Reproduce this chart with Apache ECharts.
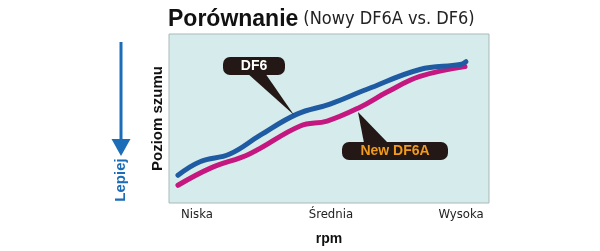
<!DOCTYPE html>
<html>
<head>
<meta charset="utf-8">
<script src="https://cdn.jsdelivr.net/npm/echarts@6/dist/echarts.min.js"></script>
<style>
  html, body { margin: 0; padding: 0; background: #fff; }
  #chart { width: 600px; height: 251px; }
</style>
</head>
<body>
<div id="chart"></div>
<script>
  // x: 0..100 = lewa..prawa krawędź wykresu, y: 0..100 = dół..góra
  const tickValues = [8.75, 50.6, 91.25];
  const tickLabels = ['Niska', 'Średnia', 'Wysoka'];

  const df6 = [
    [2.8, 16.4], [9.7, 24.4], [19, 29], [28.4, 40], [40, 52.6],
    [50.3, 58.5], [61.9, 67.3], [78.4, 79], [91, 81.9], [92.8, 83.6]
  ];
  const df6a = [
    [2.8, 10.5], [12.8, 20.5], [25.3, 29.2], [41, 45.6], [49.4, 48.5],
    [59.7, 56.7], [68, 65.5], [78.4, 74.9], [92.5, 80.7]
  ];

  let chart = echarts.init(document.getElementById('chart'));
  let font = '"Liberation Sans", Arial, sans-serif';
  let cond = '"DejaVu Sans Condensed", sans-serif';

  let option = {
    animation: false,
    title: {
      text: '{b|Porównanie} {n|(Nowy DF6A vs. DF6)}',
      left: 163,
      top: 3,
      textStyle: {
        rich: {
          b: { fontFamily: font, fontWeight: 'bold', fontSize: 23, color: '#111' },
          n: { fontFamily: cond, fontWeight: 'normal', fontSize: 18, color: '#222' }
        }
      }
    },
    grid: {
      left: 169,
      top: 34,
      width: 320,
      height: 171,
      show: true,
      backgroundColor: '#d6ecec',
      borderColor: '#a9b9b9',
      borderWidth: 1
    },
    xAxis: {
      type: 'value',
      min: 0,
      max: 100,
      name: 'rpm',
      nameLocation: 'middle',
      nameGap: 29,
      nameTextStyle: { fontFamily: font, fontWeight: 'bold', fontSize: 14, color: '#111' },
      axisLine: { show: false },
      axisTick: { show: false },
      splitLine: { show: false },
      axisLabel: {
        customValues: tickValues,
        formatter: v => tickLabels[tickValues.indexOf(v)],
        margin: 5,
        fontFamily: cond,
        fontSize: 13,
        color: '#222'
      }
    },
    yAxis: {
      type: 'value',
      min: 0,
      max: 100,
      name: 'Poziom szumu',
      nameLocation: 'middle',
      nameGap: 4,
      nameTextStyle: { fontFamily: font, fontWeight: 'bold', fontSize: 15, color: '#111' },
      axisLine: { show: false },
      axisTick: { show: false },
      axisLabel: { show: false },
      splitLine: { show: false }
    },
    series: [
      {
        name: 'DF6',
        type: 'line',
        data: df6,
        smooth: 0.4,
        showSymbol: false,
        z: 3,
        lineStyle: { color: '#1f5ba2', width: 5, cap: 'round' }
      },
      {
        name: 'New DF6A',
        type: 'line',
        data: df6a,
        smooth: 0.4,
        showSymbol: false,
        z: 2,
        lineStyle: { color: '#c4177f', width: 5, cap: 'round' }
      }
    ],
    graphic: [
      // strzałka "Lepiej"
      { type: 'rect', shape: { x: 119.5, y: 42, width: 3, height: 100 }, style: { fill: '#1a6db6' } },
      { type: 'polygon', shape: { points: [[111.5, 139], [130.5, 139], [121, 156]] }, style: { fill: '#1a6db6' } },
      {
        type: 'text', x: 121, y: 180, rotation: Math.PI / 2,
        style: { text: 'Lepiej', fill: '#1a6db6', font: 'bold 15px ' + font, align: 'center', verticalAlign: 'middle' }
      },
      // etykieta DF6
      { type: 'polygon', shape: { points: [[247, 73], [265, 73], [294, 115]] }, style: { fill: '#231815' }, z: 5 },
      { type: 'rect', shape: { x: 223, y: 57, width: 62, height: 18, r: 7 }, style: { fill: '#231815' }, z: 5 },
      {
        type: 'text', x: 254, y: 66, z: 6,
        style: { text: 'DF6', fill: '#fff', font: 'bold 14px ' + font, align: 'center', verticalAlign: 'middle' }
      },
      // etykieta New DF6A
      { type: 'polygon', shape: { points: [[358, 112], [364, 143], [388, 143]] }, style: { fill: '#231815' }, z: 5 },
      { type: 'rect', shape: { x: 342, y: 142, width: 106, height: 18, r: 7 }, style: { fill: '#231815' }, z: 5 },
      {
        type: 'text', x: 395, y: 151, z: 6,
        style: { text: 'New DF6A', fill: '#f09a1e', font: 'bold 14px ' + font, align: 'center', verticalAlign: 'middle' }
      }
    ]
  };
  chart.setOption(option);
</script>
</body>
</html>
